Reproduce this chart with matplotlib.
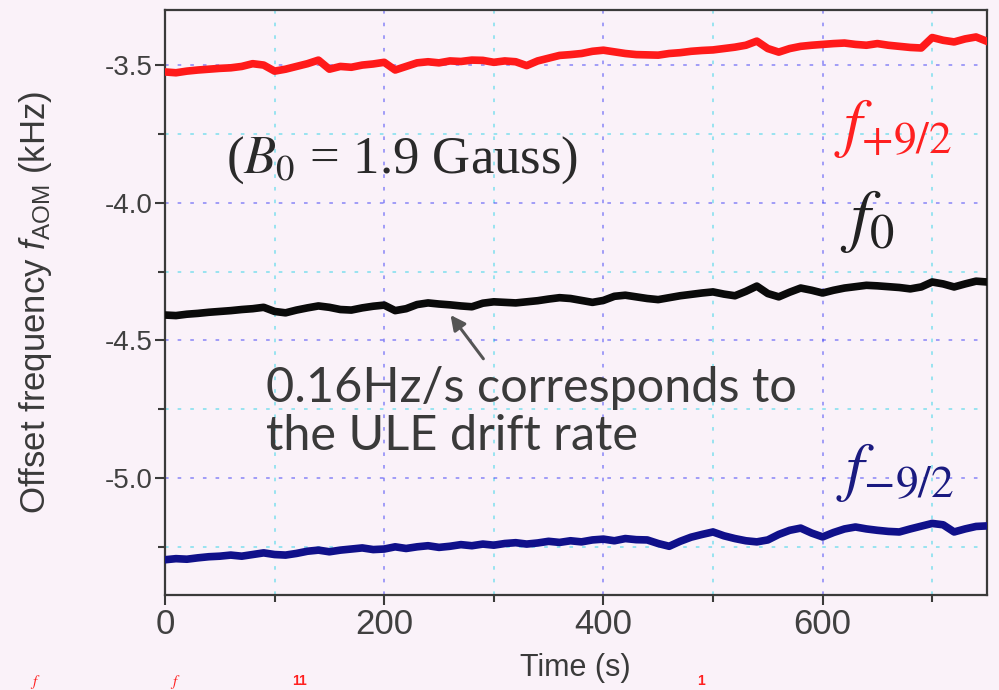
import numpy as np
import matplotlib
matplotlib.use("Agg")
import matplotlib.pyplot as plt
from matplotlib import font_manager
from matplotlib.ticker import MultipleLocator

# time axis, one reading every 10 s
time_s = np.arange(0, 760, 10)

f_plus = [-3.525, -3.528, -3.522, -3.518, -3.515, -3.512, -3.510, -3.505, -3.495, -3.500,
          -3.522, -3.515, -3.505, -3.495, -3.482, -3.515, -3.505, -3.508, -3.500, -3.496,
          -3.490, -3.518, -3.505, -3.492, -3.488, -3.492, -3.485, -3.487, -3.482, -3.483,
          -3.490, -3.485, -3.488, -3.502, -3.485, -3.475, -3.465, -3.462, -3.458, -3.450,
          -3.446, -3.452, -3.458, -3.462, -3.463, -3.464, -3.458, -3.455, -3.450, -3.447,
          -3.445, -3.440, -3.435, -3.428, -3.413, -3.440, -3.453, -3.440, -3.432, -3.428,
          -3.425, -3.422, -3.420, -3.425, -3.428, -3.422, -3.428, -3.432, -3.436, -3.438,
          -3.400, -3.410, -3.416, -3.405, -3.398, -3.414]

f_zero = [-4.408, -4.410, -4.405, -4.402, -4.398, -4.395, -4.392, -4.388, -4.385, -4.380,
          -4.395, -4.400, -4.390, -4.382, -4.375, -4.380, -4.388, -4.390, -4.382, -4.376,
          -4.372, -4.392, -4.385, -4.370, -4.364, -4.368, -4.371, -4.375, -4.378, -4.365,
          -4.360, -4.362, -4.364, -4.360, -4.356, -4.350, -4.345, -4.348, -4.355, -4.362,
          -4.355, -4.340, -4.336, -4.342, -4.348, -4.352, -4.345, -4.338, -4.333, -4.328,
          -4.324, -4.332, -4.338, -4.322, -4.303, -4.330, -4.342, -4.325, -4.310, -4.318,
          -4.328, -4.318, -4.310, -4.305, -4.300, -4.302, -4.305, -4.308, -4.313, -4.306,
          -4.288, -4.295, -4.306, -4.295, -4.285, -4.288]

f_minus = [-5.297, -5.293, -5.295, -5.290, -5.286, -5.284, -5.280, -5.284, -5.278, -5.272,
           -5.278, -5.280, -5.274, -5.266, -5.262, -5.268, -5.262, -5.258, -5.254, -5.260,
           -5.258, -5.250, -5.256, -5.250, -5.246, -5.252, -5.248, -5.242, -5.246, -5.240,
           -5.244, -5.238, -5.235, -5.240, -5.236, -5.230, -5.234, -5.228, -5.232, -5.225,
           -5.222, -5.228, -5.220, -5.224, -5.225, -5.238, -5.248, -5.230, -5.215, -5.205,
           -5.196, -5.210, -5.220, -5.228, -5.232, -5.225, -5.205, -5.190, -5.182, -5.200,
           -5.214, -5.198, -5.185, -5.178, -5.185, -5.190, -5.194, -5.196, -5.185, -5.175,
           -5.165, -5.170, -5.196, -5.185, -5.176, -5.174]

x_ticks = [0, 200, 400, 600]
y_ticks = [-3.5, -4.0, -4.5, -5.0]

available = {f.name for f in font_manager.fontManager.ttflist}
narrow = "Liberation Sans Narrow" if "Liberation Sans Narrow" in available else "Liberation Sans"

plt.rcParams["mathtext.fontset"] = "custom"
plt.rcParams["mathtext.rm"] = narrow
plt.rcParams["mathtext.it"] = narrow + ":italic"

W, H = 999, 690
bg = "#faf2f9"
fig = plt.figure(figsize=(W / 100, H / 100), dpi=100, facecolor=bg)


def fx(px):
    return px / W


def fy(py):
    return 1 - py / H


ax = fig.add_axes([fx(165), fy(595), fx(987) - fx(165), fy(10) - fy(595)], facecolor=bg)

ax.plot(time_s, f_plus, color="#ff1a1a", lw=5.5, zorder=3, solid_joinstyle="round")
ax.plot(time_s, f_zero, color="#0a0a0a", lw=5.5, zorder=3, solid_joinstyle="round")
ax.plot(time_s, f_minus, color="#10108a", lw=5.5, zorder=3, solid_joinstyle="round")

ax.set_xlim(0, 750)
ax.set_ylim(-5.425, -3.30)
ax.set_xticks(x_ticks)
ax.set_yticks(y_ticks)
ax.set_yticklabels([f"{v:.1f}" for v in y_ticks])
ax.xaxis.set_minor_locator(MultipleLocator(100))
ax.yaxis.set_minor_locator(MultipleLocator(0.25))

ax.grid(which="major", color="#3a3af5", ls=(0, (2, 5)), lw=1.3, alpha=0.5, zorder=1)
ax.grid(which="minor", color="#28d2e6", ls=(0, (2, 5)), lw=1.3, alpha=0.5, zorder=1)

for s in ax.spines.values():
    s.set_color("#3a3a3a")
    s.set_linewidth(1.6)
ax.tick_params(which="major", direction="out", length=7, width=1.5, color="#3a3a3a",
               labelsize=20, labelcolor="#404040", pad=2)
ax.tick_params(which="minor", direction="out", length=5, width=1.5, color="#3a3a3a")
for lab in ax.get_xticklabels() + ax.get_yticklabels():
    lab.set_fontfamily(narrow)
ax.tick_params(axis="x", labelsize=25)

fig.text(fx(36), fy(302), r"Offset frequency $f_{\mathrm{AOM}}$ (kHz)", rotation=90,
         ha="center", va="center", fontsize=25, family=narrow, color="#3a3a3a")
fig.text(fx(575), fy(668), "Time (s)", ha="center", va="center", fontsize=22,
         family=narrow, color="#3a3a3a")

fig.text(fx(226), fy(160), r"($B_0$ = 1.9 Gauss)", ha="left", va="center", fontsize=38,
         family="Liberation Serif", math_fontfamily="stix", color="#2a2a2a")
fig.text(fx(834), fy(128), r"$f_{+9/2}$", ha="left", va="center", fontsize=47,
         math_fontfamily="stix", color="#ff2020")
fig.text(fx(840), fy(222), r"$f_0$", ha="left", va="center", fontsize=50,
         math_fontfamily="stix", color="#222222")
fig.text(fx(836), fy(472), r"$f_{-9/2}$", ha="left", va="center", fontsize=47,
         math_fontfamily="stix", color="#1a1a80")

fig.text(fx(266), fy(412), "0.16Hz/s corresponds to\nthe ULE drift rate", ha="left",
         va="center", fontsize=35, family="Lato", color="#3a3a3a", linespacing=1.12)

ax.annotate("", xy=(259, -4.400), xytext=(292, -4.575),
            arrowprops=dict(arrowstyle="-|>", color="#555555", lw=2.2, mutation_scale=22),
            zorder=4)

# fragments of the next line of the slide, at the bottom edge
for px, txt in [(30, "$f$"), (170, "$f$")]:
    fig.text(fx(px), fy(673), txt, ha="left", va="top", fontsize=11,
             math_fontfamily="stix", color="#ff2020")
fig.text(fx(292), fy(674), "11", ha="left", va="top", fontsize=10, weight="bold",
         family="Liberation Sans", color="#ff2020")
fig.text(fx(697), fy(674), "1", ha="left", va="top", fontsize=10, weight="bold",
         family="Liberation Sans", color="#ff2020")

fig.savefig("out.png", dpi=100, facecolor=bg)
